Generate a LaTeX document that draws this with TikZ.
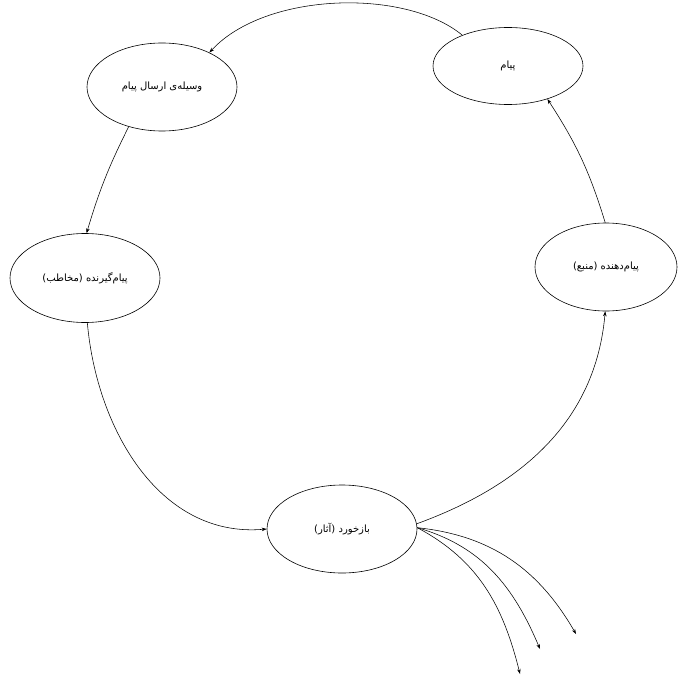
\documentclass[tikz,border=0pt]{standalone}
\usepackage{fontspec}
\newfontfamily\arabicfont[Script=Arabic]{DejaVu Sans}
\TeXXeTstate=1
\usetikzlibrary{shapes.geometric,arrows.meta}
\begin{document}
\begin{tikzpicture}[x=1pt,y=-1pt,
  ell/.style={draw,ellipse,line width=0.6pt,inner sep=0pt,font=\arabicfont\fontsize{10}{12}\selectfont},
  arr/.style={-{Stealth[length=5pt,width=3.5pt]},line width=0.55pt}]
\useasboundingbox (0,0) rectangle (677,679);
\node[ell,minimum width=150,minimum height=77] (pm) at (508,66) {\beginR پیام\endR};
\node[ell,minimum width=150,minimum height=88] (vs) at (162,87) {\beginR وسیله‌ی ارسال پیام\endR};
\node[ell,minimum width=150,minimum height=89] (gr) at (85,278) {\beginR پیام‌گیرنده (مخاطب)\endR};
\node[ell,minimum width=142,minimum height=88] (dh) at (606,267) {\beginR پیام‌دهنده (منبع)\endR};
\node[ell,minimum width=150,minimum height=88] (bz) at (342,529) {\beginR بازخورد (آثار)\endR};
\coordinate (f1) at (576,634);
\coordinate (f2) at (540,649);
\coordinate (f3) at (520,674);
\draw[arr] (dh.91) to[bend right=8] (pm.-40);
\draw[arr] (pm.146) .. controls (405,-12) and (265,-8) .. (vs.36);
\draw[arr] (vs.-130) to[bend right=5] (gr.88);
\draw[arr] (gr.-87) to[out=-85,in=185] (bz.180);
\draw[arr] (bz.4) to[out=20,in=-95] (dh.-91);
\draw[arr] (bz.1) to[out=-6,in=120] (f1);
\draw[arr] (bz.1) to[out=-16,in=113] (f2);
\draw[arr] (bz.1) to[out=-28,in=104] (f3);
\end{tikzpicture}
\end{document}
